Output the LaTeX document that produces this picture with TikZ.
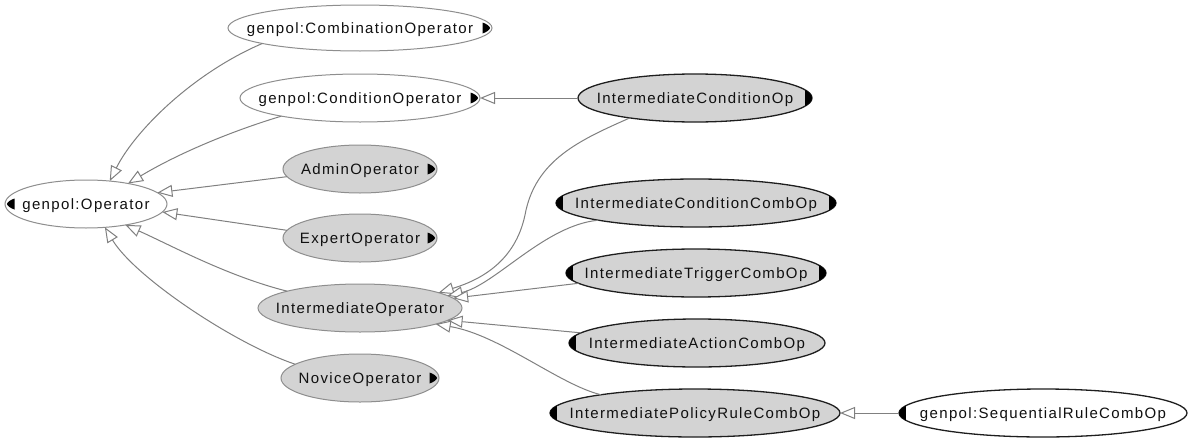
\documentclass[tikz,border=0pt]{standalone}
\usepackage{fontspec}
\setmainfont{Liberation Sans}[LetterSpace=9]
\usetikzlibrary{arrows.meta,shapes.geometric}
\definecolor{nodefill}{HTML}{D3D3D3}
\definecolor{lightedge}{HTML}{8E8E8E}
\definecolor{darkedge}{HTML}{1E1E1E}
\definecolor{linkc}{HTML}{808080}
\definecolor{txtc}{HTML}{101010}
\newcommand\rmark[1]{\fill[black,shift={(#1.east)}] (-9.5,-5.5) -- (-9.5,5.5) .. controls (-5,4) and (-2,1.5) .. (-2,0) .. controls (-2,-1.5) and (-5,-4) .. cycle;}
\newcommand\lmark[1]{\fill[black,shift={(#1.west)}] (9.5,-5.5) -- (9.5,5.5) .. controls (5,4) and (2,1.5) .. (2,0) .. controls (2,-1.5) and (5,-4) .. cycle;}
\newcommand\drmark[3]{\begin{scope}\clip (#1.center) ellipse [x radius=#2, y radius=#3]; \fill[black] (#1.east) ++(-7,-10) rectangle ++(9,20);\end{scope}}
\newcommand\dlmark[3]{\begin{scope}\clip (#1.center) ellipse [x radius=#2, y radius=#3]; \fill[black] (#1.west) ++(7,-10) rectangle ++(-9,20);\end{scope}}
\tikzset{
  cls/.style={ellipse, inner sep=0pt, outer sep=0pt, text height=10.7pt, text depth=0pt,
    font=\fontsize{15}{18}\selectfont, text=txtc},
  plainw/.style={cls, draw=lightedge, line width=1pt, fill=white},
  plaing/.style={cls, draw=lightedge, line width=1pt, fill=nodefill},
  darkg/.style={cls, draw=darkedge, line width=1.3pt, fill=nodefill},
  darkw/.style={cls, draw=darkedge, line width=1.3pt, fill=white},
  isa/.style={draw=linkc, line width=1pt, -{Triangle[length=15pt, width=12pt, fill=white]}},
}
\begin{document}
\begin{tikzpicture}[x=1pt, y=-1pt]
\fill[white] (0,0) rectangle (1193,439);
\useasboundingbox (0,0) rectangle (1193,439);

\node[plainw, minimum width=264pt, minimum height=46pt] (comb) at (360,28) {\makebox[0pt]{genpol:CombinationOperator}};
\node[plainw, minimum width=240pt, minimum height=48pt] (cond) at (360,98) {\makebox[0pt]{genpol:ConditionOperator}};
\node[plaing, minimum width=154pt, minimum height=48pt] (admin) at (360,169) {\makebox[0pt]{AdminOperator}};
\node[plainw, minimum width=162pt, minimum height=48pt] (op) at (86,204) {\makebox[0pt]{genpol:Operator}};
\node[plaing, minimum width=154pt, minimum height=48pt] (expert) at (360,238) {\makebox[0pt]{ExpertOperator}};
\node[plaing, minimum width=204pt, minimum height=48pt] (inter) at (360,308) {\makebox[0pt]{IntermediateOperator}};
\node[plaing, minimum width=158pt, minimum height=48pt] (novice) at (360,378) {\makebox[0pt]{NoviceOperator}};
\node[darkg, minimum width=234pt, minimum height=48pt] (icop) at (695,98) {\makebox[0pt]{IntermediateConditionOp}};
\node[darkg, minimum width=280pt, minimum height=48pt] (iccomb) at (696,203) {\makebox[0pt]{IntermediateConditionCombOp}};
\node[darkg, minimum width=260pt, minimum height=48pt] (itcomb) at (696,273) {\makebox[0pt]{IntermediateTriggerCombOp}};
\node[darkg, minimum width=256pt, minimum height=48pt] (iacomb) at (697,343) {\makebox[0pt]{IntermediateActionCombOp}};
\node[darkg, minimum width=290pt, minimum height=48pt] (iprcomb) at (695,413) {\makebox[0pt]{IntermediatePolicyRuleCombOp}};
\node[darkw, minimum width=288pt, minimum height=48pt] (seq) at (1043,413) {\makebox[0pt]{genpol:SequentialRuleCombOp}};

\rmark{comb}
\rmark{cond}
\rmark{admin}
\lmark{op}
\rmark{expert}
\rmark{novice}
\drmark{icop}{117}{24}
\drmark{iccomb}{140}{24}
\dlmark{iccomb}{140}{24}
\drmark{itcomb}{130}{24}
\dlmark{itcomb}{130}{24}
\dlmark{iacomb}{128}{24}
\dlmark{iprcomb}{145}{24}
\dlmark{seq}{144}{24}

\draw[isa] (comb.189) .. controls +(-70,30) and +(25,-50) .. (op.44);
\draw[isa] (cond.193) .. controls +(-50,15) and +(50,-30) .. (op.26);
\draw[isa] (admin.186) -- (op.9);
\draw[isa] (expert.174) -- (op.354);
\draw[isa] (inter.167) .. controls +(-60,-15) and +(45,20) .. (op.332);
\draw[isa] (novice.168) .. controls +(-60,-20) and +(30,50) .. (op.309);
\draw[isa] (icop.west) -- (cond.east);
\draw[isa] (icop.197) .. controls (580,140) and (535,160) .. (525,215) .. controls (515,262) and (480,280) .. (inter.11);
\draw[isa] (iccomb.190) .. controls (545,225) and (495,285) .. (inter.8);
\draw[isa] (itcomb.185) -- (inter.6);
\draw[isa] (iacomb.175) -- (inter.352);
\draw[isa] (iprcomb.169) .. controls (560,385) and (500,335) .. (inter.348);
\draw[isa] (seq.west) -- (iprcomb.east);
\end{tikzpicture}
\end{document}
